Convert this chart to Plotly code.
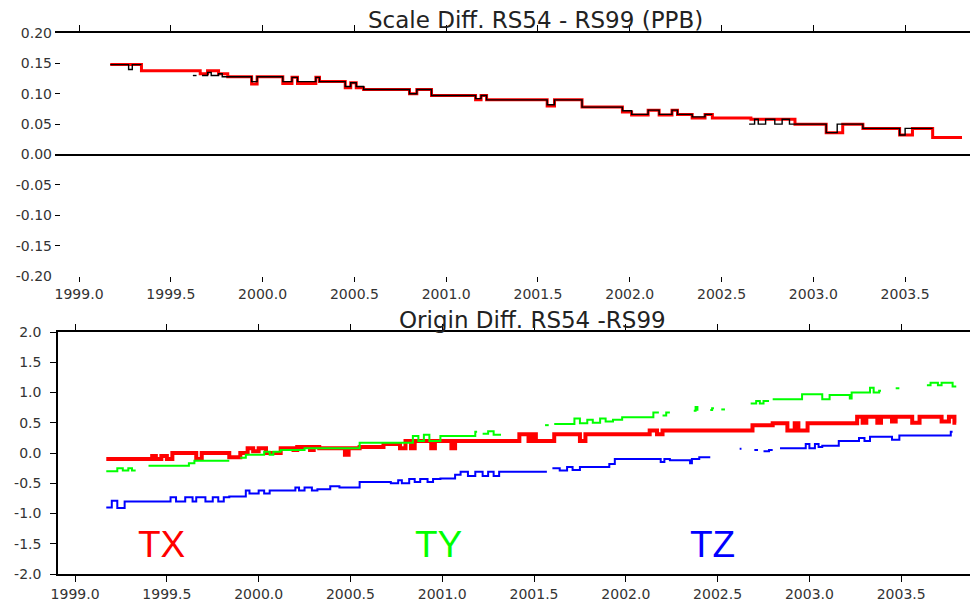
import plotly.graph_objects as go

# ---------------- data ----------------
# Top panel: Scale difference RS54 - RS99 (PPB), step series (time, value); None = gap
scale_red = [
    (1999.17, 0.148), (1999.34, 0.138), (1999.66, 0.133), (1999.70, 0.138), (1999.76, 0.133),
    (1999.81, 0.128), (1999.94, 0.116), (1999.97, 0.128), (2000.11, 0.117), (2000.16, 0.127),
    (2000.19, 0.117), (2000.29, 0.127), (2000.31, 0.120), (2000.45, 0.110), (2000.48, 0.118),
    (2000.51, 0.110), (2000.55, 0.107), (2000.80, 0.100), (2000.84, 0.107), (2000.92, 0.097),
    (2001.16, 0.090), (2001.19, 0.097), (2001.22, 0.090), (2001.55, 0.080), (2001.59, 0.090),
    (2001.74, 0.078), (2001.96, 0.070), (2002.01, 0.065), (2002.10, 0.073), (2002.16, 0.065),
    (2002.23, 0.073), (2002.26, 0.066), (2002.34, 0.060), (2002.41, 0.066), (2002.45, 0.060),
    (2002.66, 0.058), (2002.90, 0.050), (2003.07, 0.036), (2003.16, 0.050), (2003.27, 0.043),
    (2003.47, 0.032), (2003.54, 0.043), (2003.65, 0.028), (2003.81, 0.028),
]
scale_black = [
    (1999.17, 0.148), (1999.27, 0.140), (1999.29, 0.148), (1999.34, 0.148), (1999.34, None),
    (1999.62, 0.130), (1999.64, 0.130), (1999.64, None),
    (1999.67, 0.130), (1999.70, 0.135), (1999.72, 0.130), (1999.76, 0.133), (1999.78, 0.128),
    (1999.94, 0.120), (1999.97, 0.128), (2000.11, 0.120), (2000.16, 0.127), (2000.19, 0.120),
    (2000.29, 0.127), (2000.31, 0.120), (2000.45, 0.112), (2000.48, 0.118), (2000.51, 0.112),
    (2000.55, 0.107), (2000.80, 0.100), (2000.84, 0.107), (2000.92, 0.097), (2001.16, 0.092),
    (2001.19, 0.097), (2001.22, 0.090), (2001.55, 0.082), (2001.59, 0.090), (2001.74, 0.078),
    (2001.96, 0.072), (2002.01, 0.066), (2002.10, 0.073), (2002.16, 0.066), (2002.23, 0.073),
    (2002.26, 0.066), (2002.34, 0.062), (2002.41, 0.066), (2002.45, 0.066), (2002.45, None),
    (2002.65, 0.050), (2002.68, 0.058), (2002.70, 0.050), (2002.74, 0.058), (2002.79, 0.050),
    (2002.83, 0.058), (2002.87, 0.050), (2003.07, 0.036), (2003.13, 0.050), (2003.27, 0.043),
    (2003.47, 0.032), (2003.50, 0.043), (2003.65, 0.043), (2003.65, None),
]

# Bottom panel: Origin difference RS54 - RS99, TX / TY / TZ
tx_series = [
    (1999.17, -0.10), (1999.42, -0.05), (1999.44, -0.10), (1999.47, -0.05), (1999.50, -0.10),
    (1999.53, 0.00), (1999.66, -0.10), (1999.69, 0.00), (1999.84, -0.07), (1999.90, 0.00),
    (1999.94, 0.08), (1999.97, 0.03), (2000.00, 0.08), (2000.04, 0.00), (2000.12, 0.08),
    (2000.19, 0.05), (2000.21, 0.10), (2000.28, 0.05), (2000.30, 0.10), (2000.33, 0.08),
    (2000.47, -0.03), (2000.49, 0.08), (2000.55, 0.10), (2000.68, 0.15), (2000.77, 0.08),
    (2000.80, 0.20), (2000.83, 0.08), (2000.85, 0.20), (2000.94, 0.08), (2000.96, 0.20),
    (2001.05, 0.08), (2001.07, 0.20), (2001.42, 0.31), (2001.47, 0.20), (2001.49, 0.31),
    (2001.51, 0.20), (2001.61, 0.31), (2001.75, 0.20), (2001.78, 0.31), (2002.13, 0.37),
    (2002.17, 0.31), (2002.20, 0.37), (2002.69, 0.46), (2002.80, 0.49), (2002.88, 0.37),
    (2002.92, 0.49), (2002.94, 0.37), (2002.99, 0.49), (2003.26, 0.60), (2003.29, 0.50),
    (2003.31, 0.60), (2003.37, 0.50), (2003.39, 0.60), (2003.45, 0.52), (2003.47, 0.60),
    (2003.56, 0.50), (2003.60, 0.60), (2003.72, 0.52), (2003.76, 0.60), (2003.79, 0.50),
    (2003.80, 0.50),
]
ty_series = [
    (1999.17, -0.30), (1999.23, -0.25), (1999.26, -0.29), (1999.29, -0.25), (1999.31, -0.29),
    (1999.33, -0.29), (1999.33, None),
    (1999.40, -0.21), (1999.62, -0.17), (1999.65, -0.13), (1999.84, -0.13), (1999.84, None),
    (1999.90, -0.08), (1999.93, -0.03), (2000.02, -0.03), (2000.03, 0.02), (2000.06, -0.03),
    (2000.08, 0.02), (2000.12, 0.05), (2000.25, 0.08), (2000.55, 0.17), (2000.84, 0.28),
    (2000.87, 0.20), (2000.90, 0.30), (2000.93, 0.20), (2000.99, 0.28), (2001.18, 0.35),
    (2001.19, 0.35), (2001.19, None),
    (2001.22, 0.32), (2001.25, 0.36), (2001.28, 0.30), (2001.32, 0.30), (2001.32, None),
    (2001.56, 0.46), (2001.58, 0.46), (2001.58, None),
    (2001.61, 0.48), (2001.72, 0.57), (2001.75, 0.49), (2001.79, 0.55), (2001.82, 0.50),
    (2001.86, 0.57), (2001.89, 0.52), (2001.93, 0.55), (2001.98, 0.59), (2002.15, 0.67),
    (2002.18, 0.67), (2002.18, None),
    (2002.20, 0.62), (2002.22, 0.67), (2002.24, 0.67), (2002.24, None),
    (2002.37, 0.70), (2002.38, 0.76), (2002.39, 0.70), (2002.39, None),
    (2002.46, 0.71), (2002.47, 0.74), (2002.48, 0.74), (2002.48, None),
    (2002.52, 0.72), (2002.54, 0.72), (2002.54, None),
    (2002.68, 0.82), (2002.71, 0.86), (2002.73, 0.82), (2002.75, 0.86), (2002.78, 0.86),
    (2002.78, None),
    (2002.80, 0.89), (2002.96, 0.97), (2003.03, 0.97), (2003.07, 0.89), (2003.11, 0.96),
    (2003.22, 0.90), (2003.23, 1.00), (2003.33, 1.08), (2003.35, 1.00), (2003.38, 1.03),
    (2003.39, 1.03), (2003.39, None),
    (2003.47, 1.07), (2003.49, 1.07), (2003.49, None),
    (2003.64, 1.12), (2003.66, 1.16), (2003.70, 1.12), (2003.72, 1.16), (2003.78, 1.10),
    (2003.80, 1.10),
]
tz_series = [
    (1999.17, -0.90), (1999.20, -0.79), (1999.23, -0.91), (1999.27, -0.80), (1999.52, -0.73),
    (1999.55, -0.80), (1999.60, -0.73), (1999.64, -0.80), (1999.66, -0.73), (1999.71, -0.80),
    (1999.75, -0.73), (1999.78, -0.80), (1999.81, -0.73), (1999.84, -0.72), (1999.93, -0.62),
    (1999.95, -0.67), (2000.00, -0.62), (2000.03, -0.67), (2000.06, -0.62), (2000.20, -0.57),
    (2000.22, -0.62), (2000.25, -0.57), (2000.29, -0.62), (2000.32, -0.60), (2000.39, -0.55),
    (2000.44, -0.57), (2000.55, -0.48), (2000.72, -0.50), (2000.76, -0.45), (2000.78, -0.50),
    (2000.82, -0.43), (2000.85, -0.48), (2000.88, -0.43), (2000.92, -0.48), (2000.95, -0.43),
    (2000.99, -0.42), (2001.07, -0.36), (2001.10, -0.31), (2001.14, -0.38), (2001.18, -0.31),
    (2001.22, -0.38), (2001.25, -0.31), (2001.28, -0.38), (2001.31, -0.31), (2001.57, -0.31),
    (2001.57, None),
    (2001.60, -0.25), (2001.64, -0.29), (2001.68, -0.23), (2001.71, -0.28), (2001.75, -0.23),
    (2001.91, -0.18), (2001.94, -0.10), (2002.19, -0.15), (2002.21, -0.10), (2002.24, -0.12),
    (2002.35, -0.17), (2002.36, -0.10), (2002.40, -0.07), (2002.46, -0.07), (2002.46, None),
    (2002.62, 0.07), (2002.63, 0.07), (2002.63, None),
    (2002.70, 0.05), (2002.72, 0.05), (2002.72, None),
    (2002.75, 0.03), (2002.78, 0.05), (2002.80, 0.05), (2002.80, None),
    (2002.84, 0.08), (2002.98, 0.15), (2003.00, 0.08), (2003.03, 0.15), (2003.05, 0.10),
    (2003.07, 0.12), (2003.16, 0.20), (2003.27, 0.25), (2003.30, 0.20), (2003.33, 0.27),
    (2003.45, 0.22), (2003.49, 0.29), (2003.77, 0.35), (2003.78, 0.35),
]

x_ticks = [1999.0, 1999.5, 2000.0, 2000.5, 2001.0, 2001.5, 2002.0, 2002.5, 2003.0, 2003.5]
x_ticktext = ["1999.0", "1999.5", "2000.0", "2000.5", "2001.0", "2001.5",
              "2002.0", "2002.5", "2003.0", "2003.5"]
scale_ticks = [0.20, 0.15, 0.10, 0.05, 0.00, -0.05, -0.10, -0.15, -0.20]
scale_ticktext = ["0.20", "0.15", "0.10", "0.05", "0.00", "-0.05", "-0.10", "-0.15", "-0.20"]
origin_ticks = [2.0, 1.5, 1.0, 0.5, 0.0, -0.5, -1.0, -1.5, -2.0]
origin_ticktext = ["2.0", "1.5", "1.0", "0.5", "0.0", "-0.5", "-1.0", "-1.5", "-2.0"]

title_top = "Scale Diff. RS54 - RS99 (PPB)"
title_bottom = "Origin Diff. RS54 -RS99"
labels = ["TX", "TY", "TZ"]
label_pos = [(1999.47, -1.52), (2000.98, -1.52), (2002.47, -1.52)]

# ---------------- figure ----------------
# the page body has an 8px margin: the figure is laid out in screen pixels minus 8
OFF = 8
W, H = 978 - OFF, 603 - OFF


def px_x(x):
    return (x - OFF) / W


def px_y(y):
    return 1 - (y - OFF) / H


def unzip(pairs):
    return [p[0] for p in pairs], [p[1] for p in pairs]


fig = go.Figure()

t, v = unzip(scale_red)
fig.add_trace(go.Scatter(x=t, y=v, mode="lines", line=dict(color="#ff0000", width=3, shape="hv"),
                         connectgaps=False, xaxis="x", yaxis="y", showlegend=False))
t, v = unzip(scale_black)
fig.add_trace(go.Scatter(x=t, y=v, mode="lines", line=dict(color="#000000", width=1.4, shape="hv"),
                         connectgaps=False, xaxis="x", yaxis="y", showlegend=False))
# transparent copy so the top (mirror) axis of the upper panel gets drawn
fig.add_trace(go.Scatter(x=t, y=v, mode="lines", line=dict(color="rgba(0,0,0,0)", width=0),
                         xaxis="x3", yaxis="y", showlegend=False, hoverinfo="skip"))

for series, col, w in [(tx_series, "#ff0000", 4), (ty_series, "#00ff00", 2), (tz_series, "#0000ff", 2)]:
    t, v = unzip(series)
    fig.add_trace(go.Scatter(x=t, y=v, mode="lines", line=dict(color=col, width=w, shape="hv"),
                             connectgaps=False, xaxis="x2", yaxis="y2", showlegend=False))

tickfont = dict(family="DejaVu Sans", size=14, color="#333333")

top_xrange = [1998.869, 2003.897]
bot_xrange = [1998.907, 2003.902]

fig.update_layout(
    width=W, height=H,
    margin=dict(l=0, r=0, t=0, b=0, pad=0),
    paper_bgcolor="white", plot_bgcolor="white",
    showlegend=False,
    xaxis=dict(domain=[px_x(55), 1.0], range=top_xrange, anchor="y", automargin=False,
               tickmode="array", tickvals=x_ticks, ticktext=x_ticktext,
               ticks="outside", ticklen=5, tickwidth=1.2, tickcolor="black",
               showline=False, showgrid=False, zeroline=False, tickfont=tickfont),
    xaxis3=dict(overlaying="x", side="top", anchor="y", range=top_xrange, automargin=False,
                tickmode="array", tickvals=x_ticks, showticklabels=False,
                ticks="outside", ticklen=6, tickwidth=1.2, tickcolor="black",
                showline=True, linecolor="black", linewidth=1.5,
                showgrid=False, zeroline=False),
    yaxis=dict(domain=[px_y(276), px_y(33)], range=[-0.2, 0.2], anchor="x", automargin=False,
               tickmode="array", tickvals=scale_ticks, ticktext=scale_ticktext,
               ticks="inside", ticklen=5, tickwidth=1.2, tickcolor="black",
               showline=False, showgrid=False,
               zeroline=True, zerolinecolor="black", zerolinewidth=2,
               tickfont=tickfont, ticklabelstandoff=2),
    xaxis2=dict(domain=[px_x(58), px_x(975)], range=bot_xrange, anchor="y2", automargin=False,
                tickmode="array", tickvals=x_ticks, ticktext=x_ticktext,
                ticks="outside", ticklen=6, tickwidth=1.2, tickcolor="black",
                showline=True, linecolor="black", linewidth=1.5, mirror="ticks",
                showgrid=False, zeroline=False, tickfont=tickfont),
    yaxis2=dict(domain=[px_y(574), px_y(332)], range=[-2.0, 2.0], anchor="x2", automargin=False,
                tickmode="array", tickvals=origin_ticks, ticktext=origin_ticktext,
                ticks="outside", ticklen=6, tickwidth=1.2, tickcolor="black",
                showline=True, linecolor="black", linewidth=1.5, mirror="ticks",
                showgrid=False, zeroline=False, tickfont=tickfont, ticklabelstandoff=6),
)

fig.add_annotation(text=title_top, xref="paper", yref="paper", x=px_x(535), y=px_y(20),
                   showarrow=False, xanchor="center", yanchor="middle",
                   font=dict(family="DejaVu Sans", size=23, color="#222222"))
fig.add_annotation(text=title_bottom, xref="paper", yref="paper", x=px_x(532), y=px_y(320),
                   showarrow=False, xanchor="center", yanchor="middle",
                   font=dict(family="DejaVu Sans", size=23, color="#222222"))

for lab, (lx, ly), col in zip(labels, label_pos, ["#ff0000", "#00ff00", "#0000ff"]):
    fig.add_annotation(text=lab, xref="x2", yref="y2", x=lx, y=ly, showarrow=False,
                       xanchor="center", yanchor="middle",
                       font=dict(family="Liberation Sans", size=37, color=col))

fig.write_html("out.html")
